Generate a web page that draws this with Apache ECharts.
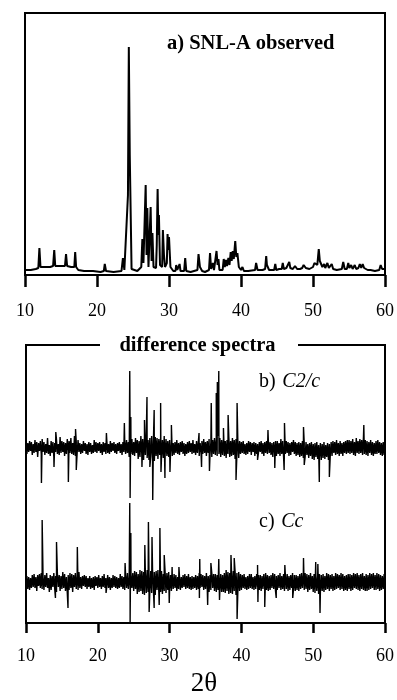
<!DOCTYPE html>
<html>
<head>
<meta charset="utf-8">
<script src="https://cdn.jsdelivr.net/npm/echarts@6/dist/echarts.min.js"></script>
<style>
html,body{margin:0;padding:0;background:#fff;}
#chart{width:397px;height:700px;}
</style>
</head>
<body>
<div id="chart"></div>
<script>
// x ticks (2θ, degrees)
const xTicks = [10, 20, 30, 40, 50, 60];

// a) SNL-A observed pattern : 2θ positions and intensities (arbitrary units)
const obsX = [10.0,10.8,11.5,11.85,12.0,12.15,12.8,13.5,13.9,14.06,14.2,14.9,15.55,15.7,15.85,16.4,16.85,16.97,17.1,17.4,18.2,19.0,19.45,19.56,19.7,20.5,20.95,21.08,21.25,22.3,23.4,23.6,23.8,24.05,24.3,24.42,24.55,24.8,25.6,26.15,26.3,26.45,26.65,26.76,26.88,26.99,27.15,27.35,27.45,27.58,27.7,27.85,28.2,28.3,28.42,28.52,28.6,28.75,29.05,29.15,29.3,29.45,29.7,29.8,29.9,30.0,30.2,30.6,30.9,31.0,31.15,31.35,31.47,31.6,32.1,32.25,32.4,33.0,33.95,34.1,34.3,34.47,34.6,35.0,35.55,35.7,35.85,36.1,36.25,36.45,36.6,36.75,36.87,37.0,37.45,37.6,37.75,37.9,38.05,38.25,38.4,38.57,38.7,38.85,39.0,39.2,39.35,39.5,39.7,40.0,40.2,40.4,41.0,41.95,42.1,42.3,43.0,43.35,43.5,43.6,43.7,43.9,44.6,44.76,44.9,45.3,45.65,45.8,45.95,46.3,46.55,46.7,46.85,47.2,47.5,47.8,48.2,48.5,48.7,49.0,49.2,49.5,50.0,50.2,50.6,50.8,50.95,51.1,51.3,51.55,51.7,52.0,52.2,52.6,52.8,53.3,54.0,54.2,54.4,54.7,54.9,55.05,55.3,55.5,55.8,56.0,56.3,56.5,56.7,56.9,57.1,57.3,57.6,58.0,58.6,59.2,59.4,59.6,59.9,60.0];
const obsY = [5,5,6,7,27,8,8,8,9,25,9,9,9,21,9,8,8,23,8,5,4,4,4,6,4,3,4,11,4,3,4,17,5,6,80,228,120,6,4,8,36,12,14,90,20,67,8,10,68,14,42,8,7,30,86,40,60,10,8,45,20,8,12,41,25,38,8,4,4,10,5,5,11,4,4,17,4,3,5,21,8,10,4,3,5,22,6,12,5,6,24,10,16,5,5,16,8,15,9,17,10,23,14,24,16,34,18,22,8,5,8,4,4,5,12,5,5,6,19,10,12,5,5,11,5,6,6,12,6,7,7,13,7,6,9,6,6,7,10,7,9,6,8,12,10,26,14,15,8,11,7,12,7,11,6,5,6,13,6,6,12,7,10,6,10,6,7,11,7,11,7,9,5,5,4,5,10,6,6,5];

// difference spectra: background noise sampled every 0.125° from 10° to 60°
const diffStart = 10;
const diffStep = 0.125;
const noiseB = [
 2,-6,5,-4,7,-3,6,-7,4,-5,
 8,-4,6,-9,5,-3,7,-6,9,-4,
 6,-7,4,-5,10,-6,3,-8,7,-5,
 6,-9,5,-4,8,-6,4,-7,11,-5,
 7,-4,6,-8,5,-6,9,-3,7,-5,
 10,-6,5,-7,12,-8,6,-5,8,-4,
 5,-6,4,-5,7,-3,5,-6,4,-7,
 6,-4,5,-6,3,-5,8,-4,6,-5,
 5,-3,6,-5,4,-7,6,-4,5,-6,
 8,-5,4,-6,7,-4,5,-3,6,-5,
 4,-6,5,-3,6,-5,4,-7,6,-4,
 7,-6,8,-5,6,-9,7,-6,9,-7,
 6,-8,10,-5,8,-11,7,-9,12,-6,
 9,-12,11,-7,13,-10,8,-12,10,-9,
 12,-10,9,-13,11,-8,10,-11,9,-7,
 11,-9,8,-10,12,-7,9,-8,7,-9,
 8,-6,7,-8,5,-7,6,-5,8,-6,
 5,-7,6,-4,7,-6,5,-8,4,-6,
 6,-5,7,-4,5,-6,8,-5,4,-7,
 7,-5,6,-8,5,-4,7,-6,9,-5,
 6,-8,7,-5,9,-7,6,-9,8,-6,
 10,-7,9,-8,12,-6,10,-9,8,-7,
 9,-8,7,-10,8,-6,11,-9,7,-8,
 10,-7,8,-11,9,-6,8,-10,7,-6,
 6,-5,7,-6,4,-7,5,-6,7,-4,
 6,-7,5,-4,6,-8,5,-6,4,-5,
 6,-4,7,-6,5,-8,6,-5,7,-6,
 8,-5,6,-7,5,-9,6,-5,7,-8,
 7,-6,5,-8,9,-6,7,-9,5,-6,
 7,-5,6,-8,5,-7,6,-4,8,-6,
 6,-8,5,-7,6,-9,5,-8,7,-10,
 5,-9,6,-7,4,-10,5,-8,6,-11,
 4,-12,5,-9,6,-11,3,-10,5,-12,
 4,-10,6,-11,3,-9,5,-12,4,-8,
 6,-8,7,-5,6,-7,8,-6,5,-8,
 7,-6,5,-8,6,-5,7,-6,8,-5,
 8,-6,7,-5,9,-7,6,-8,10,-5,
 7,-6,9,-5,8,-7,11,-6,8,-7,
 7,-8,6,-5,8,-7,6,-8,5,-6,
 7,-6,8,-5,6,-7,5,-8,6,-7,
 3];
const noiseC = [
 -3,6,-7,5,-8,4,-6,7,-5,8,
 -6,5,-9,7,-4,8,-6,9,-7,5,
 -8,7,-5,9,-6,4,-10,7,-8,6,
 -5,9,-7,6,-10,8,-5,7,-9,6,
 -7,10,-6,8,-9,5,-11,7,-8,9,
 -6,8,-10,7,-5,9,-7,6,-8,10,
 -6,5,-7,6,-4,7,-5,6,-7,4,
 -5,6,-7,4,-6,5,-8,6,-4,5,
 -6,7,-5,4,-7,6,-5,8,-6,4,
 -5,7,-6,5,-8,4,-6,7,-5,6,
 -6,5,-7,4,-6,8,-5,6,-7,5,
 -8,7,-6,9,-7,5,-10,8,-6,9,
 -9,11,-7,10,-12,8,-10,12,-9,11,
 -12,10,-13,9,-11,12,-10,13,-9,11,
 -11,12,-9,10,-13,11,-8,12,-10,9,
 -10,11,-12,8,-9,10,-11,9,-8,10,
 -8,7,-9,6,-7,8,-6,7,-9,5,
 -7,6,-8,5,-6,7,-5,8,-7,6,
 -6,8,-7,5,-8,6,-7,5,-6,7,
 -8,6,-7,9,-6,8,-5,7,-8,6,
 -7,9,-8,6,-10,7,-8,9,-6,8,
 -9,8,-10,7,-8,11,-9,8,-10,7,
 -10,9,-11,12,-9,10,-12,9,-11,10,
 -12,11,-9,10,-13,9,-11,10,-9,8,
 -8,7,-6,8,-7,5,-8,6,-7,8,
 -6,8,-7,5,-8,6,-7,8,-5,7,
 -8,7,-9,6,-7,8,-6,9,-8,7,
 -9,6,-8,7,-6,9,-7,8,-9,6,
 -8,7,-6,9,-8,6,-7,8,-9,7,
 -7,8,-9,6,-8,7,-6,9,-8,7,
 -9,7,-8,6,-9,8,-7,9,-6,8,
 -8,9,-7,8,-10,7,-8,9,-7,6,
 -10,8,-11,7,-9,6,-12,8,-10,7,
 -9,8,-10,6,-8,9,-7,8,-9,7,
 -7,8,-9,6,-8,9,-7,8,-6,7,
 -8,9,-7,8,-9,6,-8,7,-9,8,
 -7,8,-9,7,-8,9,-6,8,-7,9,
 -8,7,-9,8,-7,9,-8,6,-9,8,
 -9,7,-8,9,-7,8,-6,9,-8,7,
 -8,9,-7,8,-9,7,-8,6,-7,8,
 -4];

// sharp residual spikes [2θ, difference]
const spikesB = [[12.15,-35],[13.9,-19],[14.15,16],[15.9,-34],[16.9,19],[17.0,-22],[21.2,15],[23.7,25],[24.45,77],[24.5,-50],[24.6,31],[26.15,-19],[26.5,28],[26.85,51],[27.25,-19],[27.65,-52],[27.85,38],[28.75,45],[28.8,-24],[29.35,-30],[30.05,-24],[30.25,23],[34.1,15],[34.45,-19],[35.55,-23],[35.8,45],[36.5,55],[36.65,66],[36.85,77],[37.5,20],[38.15,33],[39.25,-32],[39.4,45],[42.25,-12],[43.7,18],[44.65,-20],[45.95,-22],[46.0,25],[48.65,21],[48.75,-17],[50.85,-34],[52.25,-29],[57.05,23]];
const spikesC = [[12.25,62],[14.1,-16],[14.25,40],[15.85,-26],[17.15,35],[21.15,-11],[23.8,19],[24.45,79],[24.5,-40],[24.6,49],[26.55,37],[27.05,60],[27.15,-30],[27.55,45],[27.85,-26],[28.55,-23],[28.65,54],[29.25,27],[29.95,-21],[30.35,15],[31.3,15],[34.15,-16],[34.2,23],[35.3,-23],[35.75,19],[36.85,23],[36.95,-18],[38.55,27],[39.0,24],[39.4,-37],[42.25,17],[42.3,-20],[43.25,-25],[44.85,-16],[46.05,17],[47.15,-16],[48.65,24],[50.35,20],[50.65,18],[50.95,-31]];

// vertical placement of the two difference traces (layout)
const offsetB = 175;
const offsetC = 41;

function buildDiff(noise, spikes, offset) {
  const pts = noise.map((v, i) => [diffStart + i * diffStep, v]);
  const all = pts.concat(spikes).sort((a, b) => a[0] - b[0]);
  return all.map(p => [p[0], p[1] + offset]);
}

const obsData = obsX.map((x, i) => [x, obsY[i]]);
const diffB = buildDiff(noiseB, spikesB, offsetB);
const diffC = buildDiff(noiseC, spikesC, offsetC);

const serif = 'Liberation Serif';
const chart = echarts.init(document.getElementById('chart'), null, {renderer: 'canvas'});

function xAxisCfg(gridIndex, tickLen, margin) {
  return {
    type: 'value', gridIndex: gridIndex, min: xTicks[0], max: xTicks[xTicks.length - 1], interval: 10,
    axisLine: {show: true, onZero: false, lineStyle: {color: '#000', width: 2}},
    axisTick: {show: true, inside: false, length: tickLen, lineStyle: {color: '#000', width: 2.5}},
    axisLabel: {show: true, margin: margin, color: '#000', fontFamily: serif, fontSize: 18},
    splitLine: {show: false}
  };
}
function yAxisCfg(gridIndex, max) {
  return {
    type: 'value', gridIndex: gridIndex, min: 0, max: max,
    axisLine: {show: false}, axisTick: {show: false}, axisLabel: {show: false}, splitLine: {show: false}
  };
}

chart.setOption({
  animation: false,
  backgroundColor: '#fff',
  grid: [
    {left: 25, right: 11, top: 13, height: 262, show: true, borderColor: '#000', borderWidth: 2, backgroundColor: 'transparent'},
    {left: 26, right: 10, top: 345, height: 278, show: true, borderColor: '#000', borderWidth: 2, backgroundColor: 'transparent'}
  ],
  xAxis: [xAxisCfg(0, 12, 27), xAxisCfg(1, 10, 24)],
  yAxis: [yAxisCfg(0, 262), yAxisCfg(1, 278)],
  series: [
    {type: 'line', xAxisIndex: 0, yAxisIndex: 0, data: obsData, symbol: 'none', lineStyle: {color: '#000', width: 2}, z: 3},
    {type: 'line', xAxisIndex: 1, yAxisIndex: 1, data: diffB, symbol: 'none', lineStyle: {color: '#000', width: 1.4}, z: 3},
    {type: 'line', xAxisIndex: 1, yAxisIndex: 1, data: diffC, symbol: 'none', lineStyle: {color: '#000', width: 1.4}, z: 3}
  ],
  graphic: [
    {type: 'text', left: 167, top: 33, z: 100,
      style: {text: 'a) SNL-A observed', fill: '#000', font: 'bold 20.5px "Liberation Serif"'}},
    {type: 'rect', shape: {x: 100, y: 338, width: 198, height: 14}, style: {fill: '#fff'}, z: 100},
    {type: 'text', x: 197.5, y: 346, z: 101,
      style: {text: 'difference spectra', fill: '#000', font: 'bold 20.5px "Liberation Serif"', align: 'center', verticalAlign: 'middle'}},
    {type: 'text', x: 259, y: 382, z: 100,
      style: {text: '{n|b)}  {i|C2/c}', verticalAlign: 'middle',
        rich: {n: {fontFamily: serif, fontSize: 20, fill: '#000', color: '#000'}, i: {fontFamily: serif, fontSize: 20, fontStyle: 'italic', fill: '#000', color: '#000'}}}},
    {type: 'text', x: 259, y: 522, z: 100,
      style: {text: '{n|c)}  {i|Cc}', verticalAlign: 'middle',
        rich: {n: {fontFamily: serif, fontSize: 20, fill: '#000', color: '#000'}, i: {fontFamily: serif, fontSize: 20, fontStyle: 'italic', fill: '#000', color: '#000'}}}},
    {type: 'text', x: 204, y: 684, z: 100,
      style: {text: '2θ', fill: '#000', font: '27px "Liberation Serif"', align: 'center', verticalAlign: 'middle'}}
  ]
});
</script>
</body>
</html>
